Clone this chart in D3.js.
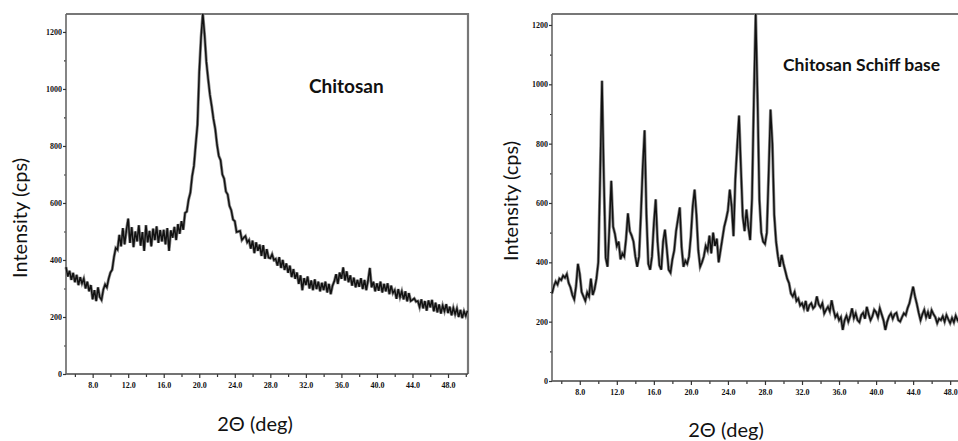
<!DOCTYPE html>
<html>
<head>
<meta charset="utf-8">
<script src="https://cdn.jsdelivr.net/npm/d3@7"></script>
<style>
  body { margin: 0; background: #fff; }
  svg { display: block; }
  .tick text { font-family: "Liberation Serif", serif; font-weight: bold; font-size: 8px; fill: #111; }
  .axis-title { font-family: Lato, "Open Sans", sans-serif; fill: #111; }
  .label { font-family: Lato, "Open Sans", sans-serif; font-weight: bold; fill: #111; }
</style>
</head>
<body>
<div id="chart"></div>
<script>
// scan starts at 5 deg, one reading every 0.2 deg
const angleStart = 5
const angleStep = 0.2

// Chitosan, one row per degree (5.0 .. 50.2)
const chitosan = [
  375, 342, 362, 330, 355,
  322, 348, 312, 340, 318,
  334, 300, 324, 290, 312,
  262, 294, 256, 304, 270,
  260, 296, 314, 304, 334,
  356, 366, 410, 442, 436,
  488, 448, 512, 455, 505,
  545, 460, 515, 445, 500,
  465, 522, 450, 498, 432,
  522, 462, 502, 448, 510,
  470, 518, 460, 505, 465,
  506, 455, 512, 432, 504,
  478, 516, 470, 526, 492,
  536, 506, 565, 570, 612,
  636, 694, 730, 805, 875,
  1060, 1180, 1264, 1190, 1095,
  1035, 980, 940, 895, 860,
  805, 765, 750, 700, 685,
  640, 630, 590, 575, 542,
  536, 498, 500, 502, 470,
  478, 484, 462, 470, 440,
  468, 424, 462, 432, 454,
  414, 452, 404, 438, 408,
  406, 420, 400, 404, 380,
  410, 372, 400, 365, 388,
  355, 380, 340, 368, 334,
  356, 316, 346, 294, 336,
  312, 342, 300, 328, 294,
  332, 298, 324, 290, 320,
  294, 324, 286, 316, 280,
  310, 325, 350, 316, 356,
  334, 374, 328, 360, 322,
  346, 310, 338, 304, 330,
  306, 336, 298, 330, 294,
  328, 372, 304, 324, 290,
  318, 292, 324, 286, 316,
  290, 318, 280, 310, 284,
  294, 264, 298, 270, 290,
  262, 290, 255, 284, 256,
  260, 265, 254, 256, 235,
  262, 230, 256, 222, 258,
  234, 260, 220, 250, 216,
  244, 212, 240, 220, 245,
  214, 236, 206, 232, 210,
  230, 200, 225, 196, 220,
  204, 222
]

// Chitosan Schiff base, same angles
const schiffBase = [
  295, 320, 335, 325, 345,
  340, 355, 348, 360, 330,
  315, 290, 275, 320, 395,
  360, 300, 285, 270, 298,
  285, 345, 290, 310, 345,
  400, 690, 1012, 680, 415,
  385, 520, 675, 520, 495,
  455, 470, 410, 430, 420,
  480, 565, 505, 490, 470,
  420, 385, 420, 560, 720,
  845, 560, 395, 375, 420,
  530, 612, 470, 390, 375,
  470, 510, 445, 375, 365,
  410, 440, 505, 545, 585,
  450, 385, 405, 395, 420,
  490, 590, 645, 560, 440,
  385, 400, 420, 455, 440,
  490, 430, 500, 455, 480,
  400, 440, 480, 520, 545,
  575, 645, 590, 488, 680,
  790, 895, 720, 555, 505,
  578, 520, 475, 615, 950,
  1237, 950, 610, 500, 470,
  462, 500, 700, 915, 800,
  560, 470, 420, 385, 425,
  395, 370, 345, 330, 295,
  285, 300, 270, 278, 255,
  262, 245, 270, 235, 255,
  262, 245, 252, 285, 258,
  248, 262, 228, 240, 250,
  235, 272, 240, 215, 225,
  205, 215, 172, 205, 220,
  200, 218, 245, 212, 228,
  205, 198, 222, 230, 210,
  250, 225, 205, 218, 240,
  232, 215, 245, 225, 205,
  172, 200, 218, 228, 210,
  225, 230, 205, 200, 215,
  228, 222, 245, 262, 290,
  318, 285, 260, 230, 205,
  225, 240, 215, 232, 210,
  238, 225, 215, 195, 210,
  205, 218, 200, 222, 208,
  195, 212, 198, 220, 205,
  215, 200, 210, 195, 205,
  208, 200
]

const xTicks = [8, 12, 16, 20, 24, 28, 32, 36, 40, 44, 48]
const xMinorTicks = [6, 10, 14, 18, 22, 26, 30, 34, 38, 42, 46, 50]
const yTicks = [0, 200, 400, 600, 800, 1000, 1200]
const yMinorTicks = [100, 300, 500, 700, 900, 1100]
const xDomain = [5, 50.25]

const width = 958
const height = 441

const svg = d3.select('#chart')
  .append('svg')
  .attr('width', width)
  .attr('height', height)

const panels = [
  { data: chitosan, left: 66, right: 468, top: 14, bottom: 374, yMax: 1263,
    name: 'Chitosan', nameX: 309, nameY: 93, nameSize: 19,
    yTitleX: 27, yTitleY: 218, xTitleX: 255, xTitleY: 431 },
  { data: schiffBase, left: 552, right: 971, top: 14, bottom: 381, yMax: 1237,
    name: 'Chitosan Schiff base', nameX: 783, nameY: 71, nameSize: 17.5,
    yTitleX: 518, yTitleY: 201, xTitleX: 726, xTitleY: 437 }
]

const drawPanel = p => {
  const g = svg.append('g')

  const x = d3.scaleLinear().domain(xDomain).range([p.left, p.right])
  const y = d3.scaleLinear().domain([0, p.yMax]).range([p.bottom, p.top])

  // frame top and right
  g.append('path')
    .attr('d', `M${p.left},${p.top}H${p.right}V${p.bottom}`)
    .attr('fill', 'none')
    .attr('stroke', '#777')
    .attr('stroke-width', 2.2)

  // minor ticks
  g.append('g')
    .attr('transform', `translate(0,${p.bottom})`)
    .call(d3.axisBottom(x).tickValues(xMinorTicks).tickSize(3).tickFormat(''))
    .call(a => a.select('.domain').remove())
  g.append('g')
    .attr('transform', `translate(${p.left},0)`)
    .call(d3.axisLeft(y).tickValues(yMinorTicks).tickSize(2).tickFormat(''))
    .call(a => a.select('.domain').remove())

  const axisX = g.append('g')
    .attr('transform', `translate(0,${p.bottom})`)
    .call(d3.axisBottom(x).tickValues(xTicks).tickSize(4).tickPadding(4).tickFormat(d3.format('.1f')))
  axisX.select('.domain').attr('d', `M${p.left},0H${p.right}`).attr('stroke', '#444').attr('stroke-width', 1.6)

  const axisY = g.append('g')
    .attr('transform', `translate(${p.left},0)`)
    .call(d3.axisLeft(y).tickValues(yTicks).tickSize(3).tickPadding(1).tickFormat(d3.format('d')))
  axisY.select('.domain').attr('d', `M0,${p.top}V${p.bottom}`).attr('stroke', '#666').attr('stroke-width', 1.6)

  g.selectAll('.tick line').attr('stroke', '#333').attr('stroke-width', 1.2)

  const line = d3.line()
    .x((d, i) => x(angleStart + i * angleStep))
    .y(d => y(d))

  // soft grey halo then the dark trace, like the scanned plot
  g.append('path')
    .datum(p.data)
    .attr('d', line)
    .attr('fill', 'none')
    .attr('stroke', '#8a8a8a')
    .attr('stroke-width', 3)
  g.append('path')
    .datum(p.data)
    .attr('d', line)
    .attr('fill', 'none')
    .attr('stroke', '#111')
    .attr('stroke-width', 1.5)

  g.append('text')
    .attr('class', 'label')
    .attr('x', p.nameX)
    .attr('y', p.nameY)
    .style('font-size', p.nameSize + 'px')
    .text(p.name)

  g.append('text')
    .attr('class', 'axis-title')
    .attr('transform', `translate(${p.yTitleX},${p.yTitleY}) rotate(-90)`)
    .attr('text-anchor', 'middle')
    .style('font-size', '20px')
    .text('Intensity (cps)')

  g.append('text')
    .attr('class', 'axis-title')
    .attr('x', p.xTitleX)
    .attr('y', p.xTitleY)
    .attr('text-anchor', 'middle')
    .style('font-size', '20px')
    .text('2Θ (deg)')
}

panels.forEach(drawPanel)
</script>
</body>
</html>
